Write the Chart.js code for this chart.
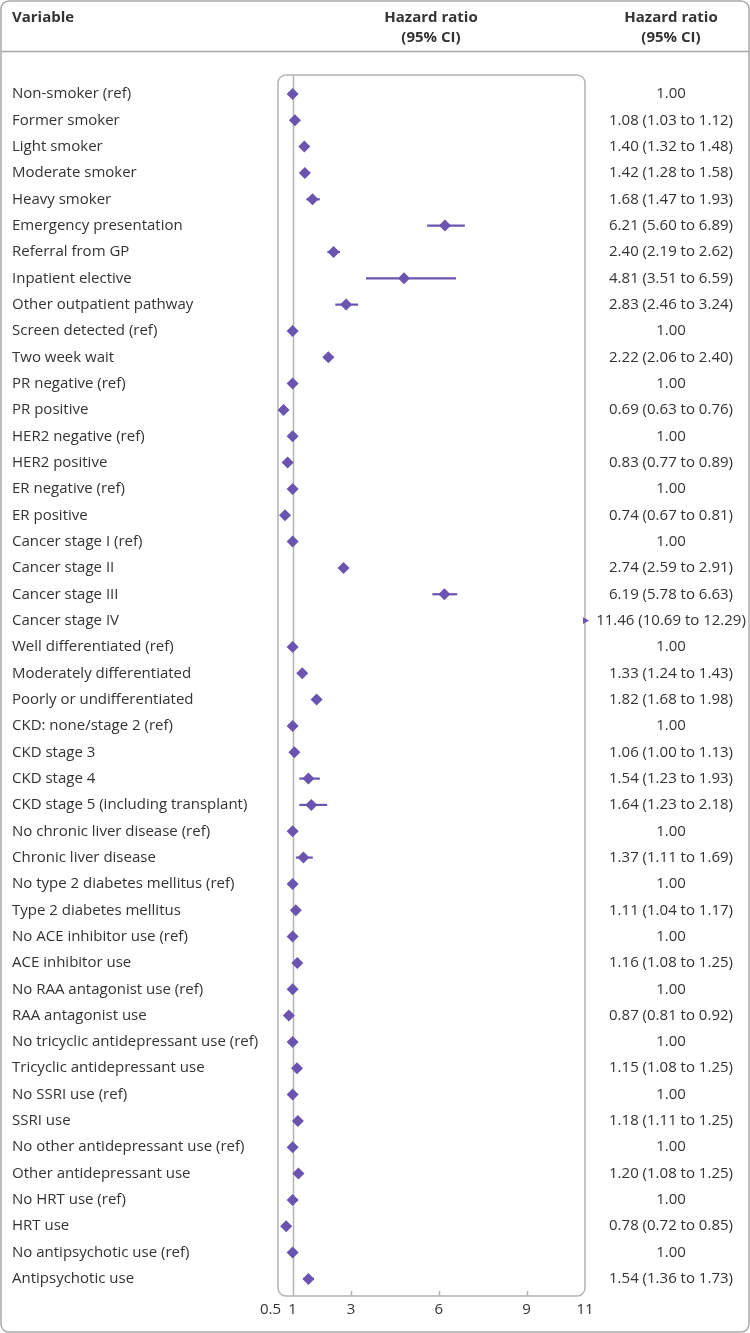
<!DOCTYPE html>
<html>
<head>
<meta charset="utf-8">
<script src="https://cdn.jsdelivr.net/npm/chart.js@4/dist/chart.umd.min.js"></script>
<style>
  html, body { margin: 0; padding: 0; background: #fff; }
  #wrap { width: 750px; height: 1333px; }
</style>
</head>
<body>
<div id="wrap"><canvas id="forest" width="750" height="1333"></canvas></div>
<script>
// --- data ---
const rowLabels = [
  'Non-smoker (ref)', 'Former smoker', 'Light smoker', 'Moderate smoker', 'Heavy smoker',
  'Emergency presentation', 'Referral from GP', 'Inpatient elective', 'Other outpatient pathway',
  'Screen detected (ref)', 'Two week wait',
  'PR negative (ref)', 'PR positive', 'HER2 negative (ref)', 'HER2 positive',
  'ER negative (ref)', 'ER positive',
  'Cancer stage I (ref)', 'Cancer stage II', 'Cancer stage III', 'Cancer stage IV',
  'Well differentiated (ref)', 'Moderately differentiated', 'Poorly or undifferentiated',
  'CKD: none/stage 2 (ref)', 'CKD stage 3', 'CKD stage 4', 'CKD stage 5 (including transplant)',
  'No chronic liver disease (ref)', 'Chronic liver disease',
  'No type 2 diabetes mellitus (ref)', 'Type 2 diabetes mellitus',
  'No ACE inhibitor use (ref)', 'ACE inhibitor use',
  'No RAA antagonist use (ref)', 'RAA antagonist use',
  'No tricyclic antidepressant use (ref)', 'Tricyclic antidepressant use',
  'No SSRI use (ref)', 'SSRI use',
  'No other antidepressant use (ref)', 'Other antidepressant use',
  'No HRT use (ref)', 'HRT use',
  'No antipsychotic use (ref)', 'Antipsychotic use'
];
const hazard = [
  1.00, 1.08, 1.40, 1.42, 1.68,
  6.21, 2.40, 4.81, 2.83,
  1.00, 2.22,
  1.00, 0.69, 1.00, 0.83,
  1.00, 0.74,
  1.00, 2.74, 6.19, 11.46,
  1.00, 1.33, 1.82,
  1.00, 1.06, 1.54, 1.64,
  1.00, 1.37,
  1.00, 1.11,
  1.00, 1.16,
  1.00, 0.87,
  1.00, 1.15,
  1.00, 1.18,
  1.00, 1.20,
  1.00, 0.78,
  1.00, 1.54
];
const ciLow = [
  null, 1.03, 1.32, 1.28, 1.47,
  5.60, 2.19, 3.51, 2.46,
  null, 2.06,
  null, 0.63, null, 0.77,
  null, 0.67,
  null, 2.59, 5.78, 10.69,
  null, 1.24, 1.68,
  null, 1.00, 1.23, 1.23,
  null, 1.11,
  null, 1.04,
  null, 1.08,
  null, 0.81,
  null, 1.08,
  null, 1.11,
  null, 1.08,
  null, 0.72,
  null, 1.36
];
const ciHigh = [
  null, 1.12, 1.48, 1.58, 1.93,
  6.89, 2.62, 6.59, 3.24,
  null, 2.40,
  null, 0.76, null, 0.89,
  null, 0.81,
  null, 2.91, 6.63, 12.29,
  null, 1.43, 1.98,
  null, 1.13, 1.93, 2.18,
  null, 1.69,
  null, 1.17,
  null, 1.25,
  null, 0.92,
  null, 1.25,
  null, 1.25,
  null, 1.25,
  null, 0.85,
  null, 1.73
];
const xTicks = [0.5, 1, 3, 6, 9, 11];
const xMin = 0.5, xMax = 11;

// --- look ---
const PURPLE = '#6a54b0';
const GREY = '#b3b3b3';
const TEXT = '#333333';
const FONT = '"Open Sans", "Noto Sans", sans-serif';

function fmt(v) { return v.toFixed(2); }
const hrText = hazard.map((h, i) =>
  ciLow[i] == null ? fmt(h) : `${fmt(h)} (${fmt(ciLow[i])} to ${fmt(ciHigh[i])})`);

const points = hazard.map((h, i) => ({ x: Math.min(h, xMax), y: i }));
const offChart = hazard.map(h => h > xMax);

function roundRect(ctx, x, y, w, h, r) {
  ctx.beginPath();
  ctx.moveTo(x + r, y);
  ctx.lineTo(x + w - r, y);
  ctx.arcTo(x + w, y, x + w, y + r, r);
  ctx.lineTo(x + w, y + h - r);
  ctx.arcTo(x + w, y + h, x + w - r, y + h, r);
  ctx.lineTo(x + r, y + h);
  ctx.arcTo(x, y + h, x, y + h - r, r);
  ctx.lineTo(x, y + r);
  ctx.arcTo(x, y, x + r, y, r);
  ctx.closePath();
}

const forestPlugin = {
  id: 'forestBits',
  beforeDatasetsDraw(chart) {
    const { ctx, chartArea: a, scales: { x, y } } = chart;
    ctx.save();
    // box around the plot
    ctx.strokeStyle = GREY;
    ctx.lineWidth = 1.5;
    roundRect(ctx, a.left, a.top, a.right - a.left, a.bottom - a.top, 8);
    ctx.stroke();
    // line of no effect
    const x1 = Math.round(x.getPixelForValue(1)) + 0.5;
    ctx.beginPath();
    ctx.moveTo(x1, a.top);
    ctx.lineTo(x1, a.bottom);
    ctx.stroke();
    // little inner ticks
    [3, 6, 9].forEach(v => {
      const px = Math.round(x.getPixelForValue(v)) + 0.5;
      ctx.beginPath();
      ctx.moveTo(px, a.bottom);
      ctx.lineTo(px, a.bottom - 5);
      ctx.stroke();
    });
    // confidence intervals
    ctx.strokeStyle = PURPLE;
    ctx.lineWidth = 2.2;
    hazard.forEach((h, i) => {
      if (ciLow[i] == null || offChart[i]) return;
      const py = y.getPixelForValue(i);
      ctx.beginPath();
      ctx.moveTo(x.getPixelForValue(ciLow[i]), py);
      ctx.lineTo(x.getPixelForValue(ciHigh[i]), py);
      ctx.stroke();
    });
    ctx.restore();
  },
  afterDraw(chart) {
    const { ctx, scales: { y } } = chart;
    const W = chart.width, H = chart.height;
    ctx.save();
    // outer frame + header rule
    ctx.strokeStyle = '#a9a9a9';
    ctx.lineWidth = 1.5;
    roundRect(ctx, 1, 1, W - 2, H - 2, 8);
    ctx.stroke();
    ctx.beginPath();
    ctx.moveTo(1, 51.5);
    ctx.lineTo(W - 1, 51.5);
    ctx.stroke();

    ctx.fillStyle = TEXT;
    ctx.textBaseline = 'middle';
    ctx.font = 'bold 15px ' + FONT;
    ctx.textAlign = 'left';
    ctx.fillText('Variable', 12, 18);
    ctx.textAlign = 'center';
    ctx.fillText('Hazard ratio', 431, 18);
    ctx.fillText('(95% CI)', 431, 38);
    ctx.fillText('Hazard ratio', 671, 18);
    ctx.fillText('(95% CI)', 671, 38);

    ctx.font = '15px ' + FONT;
    rowLabels.forEach((lab, i) => {
      const py = y.getPixelForValue(i);
      ctx.textAlign = 'left';
      ctx.fillText(lab, 12, py);
      ctx.textAlign = 'center';
      ctx.fillText(hrText[i], 671, py);
    });
    ctx.restore();
  }
};

new Chart(document.getElementById('forest'), {
  type: 'scatter',
  data: {
    datasets: [{
      data: points,
      backgroundColor: PURPLE,
      borderColor: PURPLE,
      borderWidth: 0,
      pointStyle: offChart.map(o => o ? 'triangle' : 'rectRot'),
      rotation: offChart.map(o => o ? 90 : 0),
      pointRadius: offChart.map(o => o ? 4 : 6),
      clip: false
    }]
  },
  options: {
    responsive: false,
    animation: false,
    events: [],
    layout: { padding: { left: 278, right: 165, top: 75, bottom: 8 } },
    plugins: { legend: { display: false }, tooltip: { enabled: false } },
    scales: {
      x: {
        type: 'linear',
        min: xMin,
        max: xMax,
        afterBuildTicks: s => { s.ticks = xTicks.map(v => ({ value: v })); },
        afterFit: s => { s.height = 29; },
        grid: { display: false, drawTicks: false },
        border: { display: false },
        ticks: {
          padding: 5,
          color: TEXT,
          font: { family: FONT, size: 15 },
          // nudge "0.5" left so it doesn't run into "1"
          callback: v => v === 0.5 ? '0.5\u2003' : String(v)
        }
      },
      y: {
        type: 'linear',
        display: false,
        reverse: true,
        min: -0.72,
        max: 45.65
      }
    }
  },
  plugins: [forestPlugin]
});
</script>
</body>
</html>
